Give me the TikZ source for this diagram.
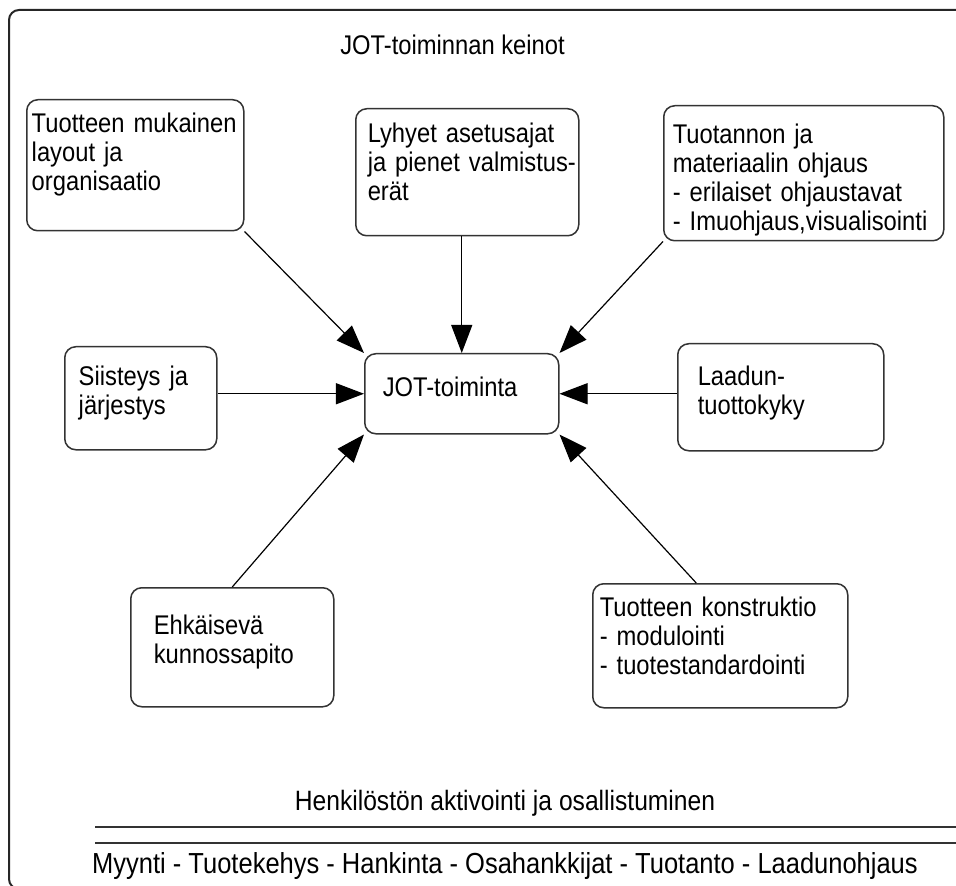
\documentclass[tikz,border=0pt]{standalone}
\usepackage{fontspec}
\setmainfont{Liberation Sans}[FakeStretch=0.88]
\usetikzlibrary{arrows.meta}
\newlength{\px}
\setlength{\px}{0.025cm}

\begin{document}
\begin{tikzpicture}[x=0.025cm,y=-0.025cm]
\tikzstyle{keino}=[rectangle, draw=black!80, line width=1.5\px, rounded corners=11\px, anchor=north west, align=left, text height=19\px, font=\fontsize{19.2pt}{20.6pt}\selectfont]
\tikzstyle{otsikko}=[inner sep=0pt, font=\fontsize{19.2pt}{20.6pt}\selectfont]
\tikzstyle{connect}=[-{Triangle[length=20pt,width=15pt]}, line width=1.2\px, black]
\useasboundingbox (0,0) rectangle (956,886);
\draw[line width=2\px, black!85, rounded corners=10\px] (9,10) rectangle (975,889);

	\node[otsikko, anchor=base west] (title) at (340,55) {JOT-toiminnan keinot};

	\node[keino, inner xsep=5\px, inner ysep=14\px, text width=207\px, text depth=84\px] (layout) at (26,99) {\mbox{Tuotteen mukainen}\\layout ja\\organisaatio};
	\node[keino, inner xsep=12\px, inner ysep=15\px, text width=199\px, text depth=78\px] (asetus) at (355,108) {Lyhyet asetusajat\\\mbox{ja pienet valmistus-}\\erät};
	\node[keino, inner xsep=9\px, inner ysep=19\px, text width=262\px, text depth=78\px] (ohjaus) at (663,105) {Tuotannon ja\\materiaalin ohjaus\\- erilaiset ohjaustavat\\- Imuohjaus,visualisointi};
	\node[keino, inner xsep=14\px, inner ysep=20\px, text width=124\px, text depth=44\px] (siisteys) at (64,346) {Siisteys ja\\järjestys};
	\node[keino, inner xsep=18\px, inner ysep=24\px, text width=158\px, text depth=13\px] (jot) at (364,353) {JOT-toiminta};
	\node[keino, inner xsep=20\px, inner ysep=23\px, text width=166\px, text depth=42\px] (laatu) at (677,343) {Laadun-\\tuottokyky};
	\node[keino, inner xsep=23\px, inner ysep=28\px, text width=157\px, text depth=44\px] (kunnossapito) at (130,587) {Ehkäisevä\\kunnossapito};
	\node[keino, inner xsep=7\px, inner ysep=14\px, text width=241\px, text depth=77\px] (konstruktio) at (592,583) {Tuotteen konstruktio\\- modulointi\\- tuotestandardointi};

	\node[otsikko, anchor=base, font=\fontsize{19.9pt}{21pt}\selectfont] (henkilosto) at (505,810) {Henkilöstön aktivointi ja osallistuminen};
	\node[otsikko, anchor=base, font=\fontsize{20.6pt}{22pt}\selectfont] (toiminnot) at (505,873) {Myynti - Tuotekehys - Hankinta - Osahankkijat - Tuotanto - Laadunohjaus};

	\draw[line width=2\px, black!80] (95,827) -- (962,827);
	\draw[line width=2\px, black!80] (95,843) -- (962,843);

	\path
		(layout.south east) edge [connect] (jot.north west)
		(jot.north |- asetus.south) edge [connect] (jot.north)
		(ohjaus.south west) edge [connect] (jot.north east)
		(siisteys.east |- jot.west) edge [connect] (jot.west)
		(laatu.west |- jot.east) edge [connect] (jot.east)
		(kunnossapito.north) edge [connect] (jot.south west)
		([xshift=-24\px]konstruktio.north) edge [connect] (jot.south east);

\end{tikzpicture}
\end{document}
